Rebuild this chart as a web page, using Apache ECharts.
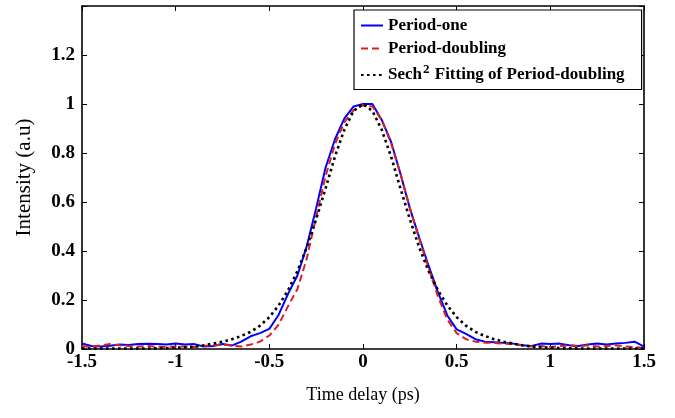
<!DOCTYPE html>
<html>
<head>
<meta charset="utf-8">
<script src="https://cdn.jsdelivr.net/npm/echarts@6/dist/echarts.min.js"></script>
<style>html,body{margin:0;padding:0;background:#fff;}#c{width:675px;height:418px;}</style>
</head>
<body>
<div id="c"></div>
<script>
const timeDelay = [-1.5,-1.45,-1.4,-1.35,-1.3,-1.25,-1.2,-1.15,-1.1,-1.05,-1.0,-0.95,-0.9,-0.85,-0.8,-0.75,-0.7,-0.65,-0.6,-0.55,-0.5,-0.45,-0.4,-0.35,-0.3,-0.25,-0.2,-0.15,-0.1,-0.05,0,0.05,0.1,0.15,0.2,0.25,0.3,0.35,0.4,0.45,0.5,0.55,0.6,0.65,0.7,0.75,0.8,0.85,0.9,0.95,1.0,1.05,1.1,1.15,1.2,1.25,1.3,1.35,1.4,1.45,1.5];
const periodOne = [0.023,0.012,0.010,0.013,0.018,0.016,0.020,0.021,0.020,0.018,0.022,0.018,0.020,0.010,0.012,0.020,0.014,0.030,0.052,0.065,0.082,0.140,0.225,0.300,0.420,0.575,0.740,0.855,0.940,0.990,1.000,1.000,0.935,0.845,0.715,0.575,0.455,0.340,0.232,0.137,0.080,0.062,0.040,0.030,0.028,0.025,0.022,0.015,0.012,0.022,0.020,0.022,0.015,0.012,0.018,0.022,0.018,0.022,0.025,0.030,0.010];
const periodDoubling = [0.012,0.008,0.015,0.020,0.015,0.012,0.010,0.012,0.010,0.008,0.010,0.010,0.008,0.012,0.015,0.018,0.014,0.010,0.018,0.030,0.055,0.100,0.175,0.245,0.370,0.540,0.705,0.835,0.925,0.975,0.995,0.990,0.935,0.840,0.715,0.575,0.450,0.330,0.215,0.120,0.065,0.040,0.030,0.026,0.025,0.022,0.020,0.015,0.010,0.012,0.008,0.012,0.015,0.010,0.015,0.010,0.012,0.015,0.010,0.008,0.004];
const sech2Fit = [0.002,0.002,0.002,0.002,0.002,0.002,0.002,0.002,0.003,0.004,0.005,0.007,0.010,0.015,0.022,0.030,0.040,0.053,0.070,0.095,0.130,0.178,0.240,0.318,0.415,0.530,0.655,0.785,0.895,0.972,1.000,0.972,0.895,0.785,0.655,0.530,0.415,0.318,0.240,0.178,0.130,0.095,0.070,0.053,0.040,0.030,0.022,0.015,0.010,0.007,0.005,0.004,0.003,0.002,0.002,0.002,0.002,0.002,0.002,0.002,0.002];
const xTicks = {min:-1.5, max:1.5, interval:0.5};
const yTicks = {min:0, max:1.4, interval:0.2};
const seriesNames = ['Period-one','Period-doubling','Sech² Fitting of Period-doubling'];

const pair = arr => timeDelay.map((t,i)=>[t,arr[i]]);
const font = 'Liberation Serif';
const chart = echarts.init(document.getElementById('c'), null, {renderer:'canvas'});
const axisLine = {show:true, onZero:false, lineStyle:{color:'#000', width:1.6}};
const tick = {show:true, inside:true, length:5, lineStyle:{color:'#000', width:1}};
const fmt = v => { const r = Math.round(v*10)/10; return String(r); };
chart.setOption({
  animation:false,
  backgroundColor:'#fff',
  grid:{left:82, right:31, top:6, bottom:69},
  xAxis:[{
    type:'value', min:xTicks.min, max:xTicks.max, interval:xTicks.interval,
    axisLine:axisLine, axisTick:tick, splitLine:{show:false},
    axisLabel:{color:'#000', fontFamily:font, fontWeight:'bold', fontSize:19, margin:4, formatter:fmt},
    name:'Time delay (ps)', nameLocation:'middle', nameGap:37,
    nameTextStyle:{color:'#000', fontFamily:font, fontSize:18}
  },{
    type:'value', position:'top', min:xTicks.min, max:xTicks.max, interval:xTicks.interval,
    axisLine:axisLine, axisTick:tick, axisLabel:{show:false}, splitLine:{show:false}
  }],
  yAxis:[{
    type:'value', min:yTicks.min, max:yTicks.max, interval:yTicks.interval,
    axisLine:axisLine, axisTick:tick, splitLine:{show:false},
    axisLabel:{color:'#000', fontFamily:font, fontWeight:'bold', fontSize:19, margin:7,
      formatter:v => (Math.abs(v-1.4)<1e-6 ? '' : fmt(v))},
    name:'Intensity (a.u)', nameLocation:'middle', nameGap:47,
    nameTextStyle:{color:'#000', fontFamily:font, fontSize:21}
  },{
    type:'value', position:'right', min:yTicks.min, max:yTicks.max, interval:yTicks.interval,
    axisLine:axisLine, axisTick:tick, axisLabel:{show:false}, splitLine:{show:false}
  }],
  legend:{
    orient:'vertical', left:354, top:10, width:288,
    backgroundColor:'#fff', borderColor:'#000', borderWidth:1.2, borderRadius:0,
    padding:[7,17,6,6], itemWidth:22, itemHeight:10, itemGap:6,
    data:seriesNames,
    itemStyle:{color:'rgba(0,0,0,0)', borderWidth:0, opacity:0},
    textStyle:{color:'#000', fontFamily:font, fontWeight:'bold', fontSize:17,
      rich:{sup:{fontFamily:font, fontWeight:'bold', fontSize:13, verticalAlign:'bottom', padding:[0,1,11,1], color:'#000'},
            b:{fontFamily:font, fontWeight:'bold', fontSize:17, color:'#000'}}},
    formatter: n => n.indexOf('²')>=0 ? '{b|Sech}{sup|2}{b| Fitting of Period-doubling}' : n
  },
  series:[
    {name:seriesNames[0], type:'line', data:pair(periodOne), symbol:'none', smooth:false,
      lineStyle:{color:'#0000ff', width:2}, itemStyle:{color:'#0000ff'}},
    {name:seriesNames[1], type:'line', data:pair(periodDoubling), symbol:'none', smooth:false,
      lineStyle:{color:'#dd1f1f', width:2, type:[7,4]}, itemStyle:{color:'#dd1f1f'}},
    {name:seriesNames[2], type:'line', data:pair(sech2Fit), symbol:'none', smooth:false,
      lineStyle:{color:'#000', width:2.6, type:[2.6,3.4]}, itemStyle:{color:'#000'}}
  ]
});
</script>
</body>
</html>
